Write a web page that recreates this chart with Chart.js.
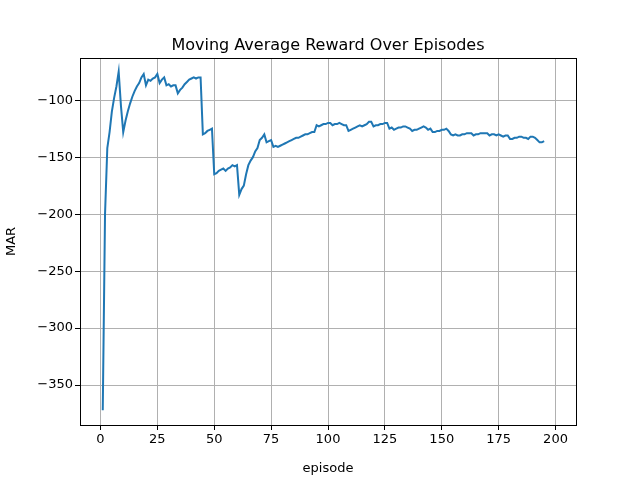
<!DOCTYPE html>
<html><head><meta charset="utf-8">
<script src="https://cdn.jsdelivr.net/npm/chart.js@4/dist/chart.umd.min.js"></script>
<style>html,body{margin:0;background:#fff}#c{width:640px;height:480px}</style>
</head><body><div id="c"><canvas id="chart"></canvas></div>
<script>
// Moving average reward, episodes 1..199
const rewards = [
  -372, -200, -142, -128, -110, -98, -88, -75, -105, -128,
  -118, -110, -103, -97, -92, -88, -85, -80, -77, -87,
  -82, -83, -81, -80, -77, -85, -82, -80, -87, -86,
  -88, -87, -87, -94, -91, -89, -86, -84, -82, -81,
  -80, -81, -80, -80, -130, -129, -127, -126, -125, -165,
  -164, -162, -161, -160, -162, -160, -159, -157, -158, -157,
  -183, -178, -175, -165, -157, -153, -150, -145, -142, -135,
  -133, -130, -137, -136, -135, -141, -140, -141, -140, -139,
  -138, -137, -136, -135, -134, -133, -133, -132, -131, -130,
  -130, -129, -128, -128, -122, -123, -122, -121, -121, -120,
  -120, -122, -121, -121, -120, -121, -122, -122, -127, -126,
  -125, -124, -123, -122, -123, -122, -121, -119, -119, -123,
  -122, -122, -121, -121, -120, -120, -125, -124, -126, -125,
  -124, -124, -123, -123, -124, -125, -127, -126, -126, -125,
  -124, -123, -124, -126, -125, -128, -128, -127, -127, -126,
  -126, -125, -127, -130, -131, -130, -131, -131, -130, -130,
  -129, -129, -129, -131, -130, -130, -129, -129, -129, -129,
  -131, -130, -130, -131, -130, -131, -132, -131, -131, -134,
  -134, -133, -133, -132, -132, -133, -133, -134, -132, -132,
  -133, -135, -137, -137, -136
];
const episodes = rewards.map((_, i) => i + 1);
const xTicks = [0, 25, 50, 75, 100, 125, 150, 175, 200];
const yTicks = [-350, -300, -250, -200, -150, -100];

const font = { family: 'DejaVu Sans', size: 13 };

const titlePlugin = {
  id: 'mplTitle',
  afterDraw(chart) {
    const { ctx, chartArea: a } = chart;
    ctx.save();
    ctx.font = '16px DejaVu Sans';
    ctx.fillStyle = '#000';
    ctx.textAlign = 'center';
    ctx.textBaseline = 'alphabetic';
    ctx.fillText('Moving Average Reward Over Episodes', (a.left + a.right) / 2, a.top - 8);
    ctx.strokeStyle = '#000';
    ctx.lineWidth = 1;
    ctx.strokeRect(a.left + 0.5, a.top + 0.5, a.right - a.left, a.bottom - a.top);
    ctx.restore();
  }
};

new Chart(document.getElementById('chart'), {
  type: 'line',
  data: {
    datasets: [{
      data: episodes.map((e, i) => ({ x: e, y: rewards[i] })),
      borderColor: '#1f77b4',
      borderWidth: 2,
      pointRadius: 0,
      tension: 0
    }]
  },
  options: {
    responsive: true,
    maintainAspectRatio: false,
    animation: false,
    layout: { padding: { left: 0, right: 64, top: 58, bottom: 0 } },
    plugins: { legend: { display: false }, tooltip: { enabled: false } },
    scales: {
      x: {
        type: 'linear', min: -9, max: 209,
        afterBuildTicks: s => { s.ticks = xTicks.map(v => ({ value: v })); },
        afterFit: s => { s.height = 55; },
        ticks: { color: '#000', font, padding: 2 },
        grid: { color: '#b0b0b0', lineWidth: 1, tickColor: '#000', tickLength: 5 },
        border: { display: false },
        title: { display: true, text: 'episode', color: '#000', font, padding: { top: 2 } }
      },
      y: {
        min: -385, max: -63,
        afterBuildTicks: s => { s.ticks = yTicks.map(v => ({ value: v })); },
        afterFit: s => { s.width = 80; },
        ticks: { color: '#000', font, padding: 2, callback: v => String(v).replace('-', '\u2212') },
        grid: { color: '#b0b0b0', lineWidth: 1, tickColor: '#000', tickLength: 5 },
        border: { display: false },
        title: { display: true, text: 'MAR', color: '#000', font, padding: { bottom: 2 } }
      }
    }
  },
  plugins: [titlePlugin]
});
</script></body></html>
